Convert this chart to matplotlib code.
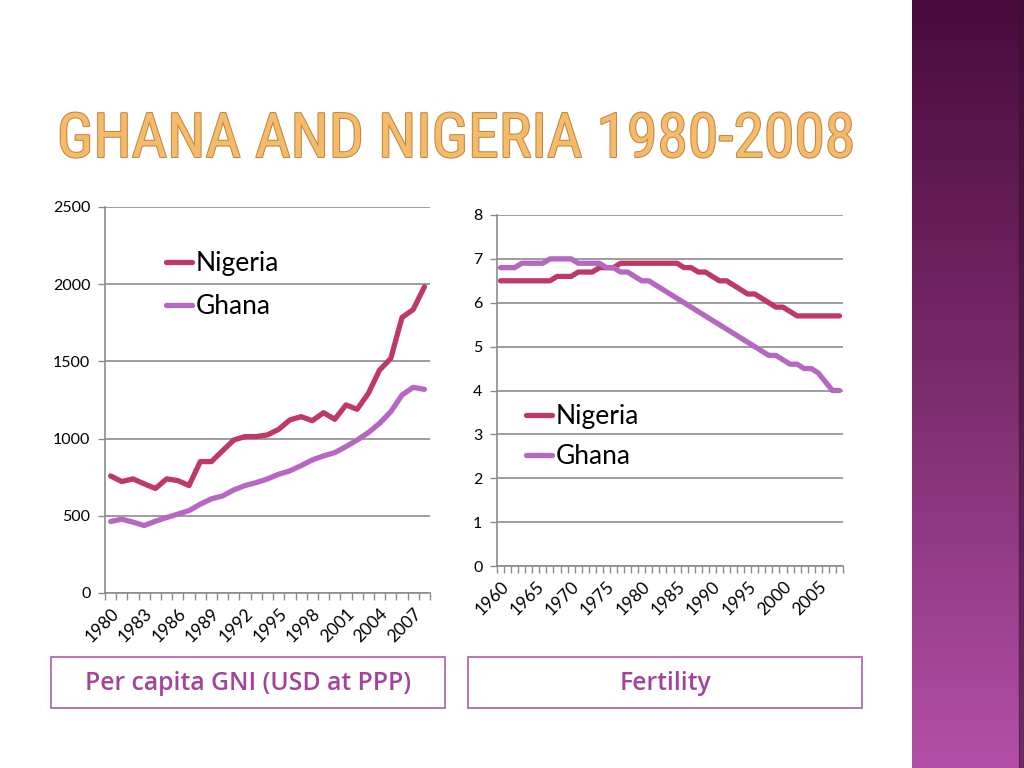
import matplotlib
matplotlib.use('Agg')
import matplotlib.pyplot as plt
import numpy as np
from matplotlib import font_manager
from matplotlib.patches import Rectangle
import matplotlib.patheffects as pe

# ---------------- data ----------------
gni_years = [1980, 1981, 1982, 1983, 1984, 1985, 1986, 1987, 1988, 1989,
             1990, 1991, 1992, 1993, 1994, 1995, 1996, 1997, 1998, 1999,
             2000, 2001, 2002, 2003, 2004, 2005, 2006, 2007, 2008]
gni_nigeria = [758, 722, 739, 707, 677, 739, 728, 696, 851, 851,
               922, 991, 1013, 1013, 1024, 1060, 1121, 1142, 1116, 1168,
               1125, 1218, 1190, 1293, 1444, 1519, 1784, 1836, 1983]
gni_ghana = [463, 478, 459, 437, 465, 489, 511, 534, 575, 610,
             629, 668, 696, 715, 739, 769, 791, 825, 862, 888,
             909, 948, 991, 1039, 1099, 1174, 1282, 1332, 1319]
gni_tick_labels = ['1980', '1983', '1986', '1989', '1992', '1995', '1998', '2001', '2004', '2007']
gni_yticks = [0, 500, 1000, 1500, 2000, 2500]

fert_years = [1960, 1961, 1962, 1963, 1964, 1965, 1966, 1967, 1968, 1969,
              1970, 1971, 1972, 1973, 1974, 1975, 1976, 1977, 1978, 1979,
              1980, 1981, 1982, 1983, 1984, 1985, 1986, 1987, 1988, 1989,
              1990, 1991, 1992, 1993, 1994, 1995, 1996, 1997, 1998, 1999,
              2000, 2001, 2002, 2003, 2004, 2005, 2006, 2007, 2008]
fert_nigeria = [6.5, 6.5, 6.5, 6.5, 6.5, 6.5, 6.5, 6.5, 6.6, 6.6,
                6.6, 6.7, 6.7, 6.7, 6.8, 6.8, 6.8, 6.9, 6.9, 6.9,
                6.9, 6.9, 6.9, 6.9, 6.9, 6.9, 6.8, 6.8, 6.7, 6.7,
                6.6, 6.5, 6.5, 6.4, 6.3, 6.2, 6.2, 6.1, 6.0, 5.9,
                5.9, 5.8, 5.7, 5.7, 5.7, 5.7, 5.7, 5.7, 5.7]
fert_ghana = [6.8, 6.8, 6.8, 6.9, 6.9, 6.9, 6.9, 7.0, 7.0, 7.0,
              7.0, 6.9, 6.9, 6.9, 6.9, 6.8, 6.8, 6.7, 6.7, 6.6,
              6.5, 6.5, 6.4, 6.3, 6.2, 6.1, 6.0, 5.9, 5.8, 5.7,
              5.6, 5.5, 5.4, 5.3, 5.2, 5.1, 5.0, 4.9, 4.8, 4.8,
              4.7, 4.6, 4.6, 4.5, 4.5, 4.4, 4.2, 4.0, 4.0]
fert_tick_labels = ['1960', '1965', '1970', '1975', '1980', '1985', '1990', '1995', '2000', '2005']
fert_yticks = [0, 1, 2, 3, 4, 5, 6, 7, 8]

series_names = ['Nigeria', 'Ghana']
series_colors = ['#BE3A62', '#B567C2']

title_text = 'GHANA AND NIGERIA 1980-2008'
box_labels = ['Per capita GNI (USD at PPP)', 'Fertility']

# ---------------- fonts ----------------
available = {f.name for f in font_manager.fontManager.ttflist}


def pick(cands):
    for c in cands:
        if c in available:
            return c
    return 'DejaVu Sans'


base_font = pick(['Lato', 'Open Sans', 'DejaVu Sans'])
box_font = pick(['Open Sans', 'Lato', 'DejaVu Sans'])
title_font = pick(['Liberation Sans Narrow', 'Roboto Condensed', 'Open Sans Condensed',
                   'DejaVu Sans Condensed', 'Roboto', 'Lato'])
plt.rcParams['font.family'] = [base_font, 'DejaVu Sans']

W, H = 1024, 768
fig = plt.figure(figsize=(W / 100, H / 100), dpi=100)
fig.patch.set_facecolor('white')


def fx(px):
    return px / W


def fy(py):
    return 1 - py / H


GRID = '#8C8C8C'


def style_axis(ax, n, ymax, yticks, label_every, labels, ypad):
    ax.set_xlim(-0.5, n - 0.5)
    ax.set_ylim(0, ymax)
    ax.set_yticks(yticks)
    ax.set_yticklabels([str(t) for t in yticks], fontsize=11.5)
    idx = np.arange(0, n, label_every)[:len(labels)]
    ax.set_xticks(idx)
    ax.set_xticklabels(labels, rotation=45, ha='right', va='top',
                       rotation_mode='anchor', fontsize=12.5)
    ax.set_xticks(np.arange(-0.5, n, 1.0), minor=True)
    ax.tick_params(axis='x', which='major', length=0, pad=9)
    ax.tick_params(axis='x', which='minor', length=5, color=GRID, width=1)
    ax.tick_params(axis='y', length=5, color=GRID, width=1, pad=ypad)
    ax.grid(axis='y', color=GRID, linewidth=1.2)
    ax.set_axisbelow(True)
    for s in ['top', 'right']:
        ax.spines[s].set_visible(False)
    for s in ['left', 'bottom']:
        ax.spines[s].set_color(GRID)
        ax.spines[s].set_linewidth(1.2)
    ax.set_facecolor('none')


# ---------------- left chart ----------------
ax1 = fig.add_axes([fx(105), fy(593), fx(430) - fx(105), fy(207) - fy(593)])
x1 = np.arange(len(gni_years))
for vals, name, col in zip([gni_nigeria, gni_ghana], series_names, series_colors):
    ax1.plot(x1, vals, color=col, linewidth=3.8, label=name,
             solid_joinstyle='round', solid_capstyle='round')
style_axis(ax1, len(gni_years), 2500, gni_yticks, 3, gni_tick_labels, 5.5)
leg1 = ax1.legend(loc='upper left', bbox_to_anchor=(fx(166), fy(251)),
                  bbox_transform=fig.transFigure, frameon=False, fontsize=19,
                  handlelength=1.0, handletextpad=0.12, labelspacing=0.7,
                  borderpad=0, borderaxespad=0)

# ---------------- right chart ----------------
ax2 = fig.add_axes([fx(497), fy(566), fx(843) - fx(497), fy(215) - fy(566)])
x2 = np.arange(len(fert_years))
for vals, name, col in zip([fert_nigeria, fert_ghana], series_names, series_colors):
    ax2.plot(x2, vals, color=col, linewidth=3.8, label=name,
             solid_joinstyle='round', solid_capstyle='round')
style_axis(ax2, len(fert_years), 8, fert_yticks, 5, fert_tick_labels, 5.5)
leg2 = ax2.legend(loc='upper left', bbox_to_anchor=(fx(526), fy(404)),
                  bbox_transform=fig.transFigure, frameon=False, fontsize=19,
                  handlelength=1.0, handletextpad=0.12, labelspacing=0.58,
                  borderpad=0, borderaxespad=0)

# ---------------- title ----------------
title = fig.text(fx(57), fy(157), title_text, family=[title_font, 'DejaVu Sans'],
                 fontsize=44, color='#F6BB68', ha='left', va='baseline',
                 path_effects=[pe.Stroke(linewidth=1.5, foreground='#BE8848'), pe.Normal()])
fig.canvas.draw()
bb = title.get_window_extent()
title.set_fontsize(44 * 798 / bb.width)

# ---------------- label boxes ----------------
BOX_EDGE = '#B968AF'
BOX_TEXT = '#A3449B'
for (x0, x1b), lab in zip([(51, 445), (468, 862)], box_labels):
    fig.add_artist(Rectangle((fx(x0), fy(708)), fx(x1b) - fx(x0), fy(657) - fy(708),
                             transform=fig.transFigure, facecolor='white',
                             edgecolor=BOX_EDGE, linewidth=1.3))
    fig.text((fx(x0) + fx(x1b)) / 2, fy(684), lab, ha='center', va='center',
             fontsize=17.8, color=BOX_TEXT, fontweight='semibold',
             family=[box_font, 'DejaVu Sans'])

# ---------------- sidebar ----------------
axs = fig.add_axes([fx(912), 0, 1 - fx(912), 1])
stops = np.array([[0x4A, 0x0A, 0x3C], [0x7A, 0x2C, 0x6C], [0xB4, 0x4E, 0xA8]]) / 255.0
t = np.linspace(0, 1, 256)
grad = np.zeros((256, 1, 3))
for c in range(3):
    grad[:, 0, c] = np.interp(t, [0, 0.5, 1], stops[:, c])
axs.imshow(grad, aspect='auto', extent=[0, 1, 0, 1], origin='upper')
axs.add_patch(Rectangle((0.955, 0), 0.045, 1, color='#3A1034', alpha=0.55))
axs.set_xlim(0, 1)
axs.set_ylim(0, 1)
axs.axis('off')

fig.savefig('out.png', dpi=100)
